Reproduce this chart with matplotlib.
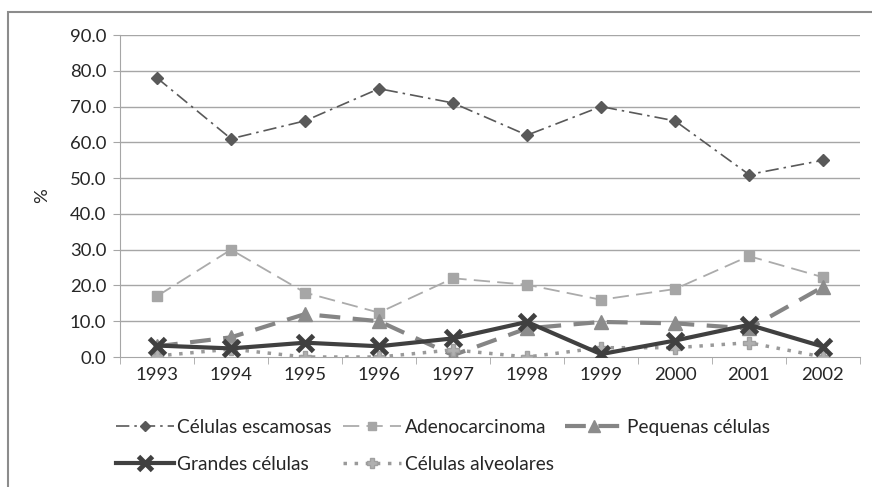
import matplotlib
matplotlib.use("Agg")
import matplotlib.pyplot as plt
from matplotlib.patches import Rectangle
import numpy as np

years = ["1993", "1994", "1995", "1996", "1997", "1998", "1999", "2000", "2001", "2002"]
escamosas = [78.0, 61.0, 66.0, 75.0, 71.0, 62.0, 70.0, 66.0, 51.0, 55.0]
adenocarcinoma = [17.0, 30.0, 18.0, 12.4, 22.0, 20.2, 16.0, 19.0, 28.2, 22.3]
pequenas = [3.0, 5.5, 12.0, 10.0, 0.5, 8.0, 9.8, 9.4, 8.0, 19.6]
grandes = [3.2, 2.4, 4.0, 3.0, 5.2, 9.8, 0.8, 4.6, 9.0, 2.9]
alveolares = [0.3, 2.2, 0.0, 0.0, 2.0, 0.0, 2.6, 2.6, 4.0, 0.0]

y_ticks = [0, 10, 20, 30, 40, 50, 60, 70, 80, 90]

plt.rcParams['font.family'] = ['Lato', 'DejaVu Sans']

W, H = 872, 487
fig = plt.figure(figsize=(W / 100, H / 100), dpi=100)

# outer chart frame (cropped on right/bottom)
fig.patches.append(Rectangle((8 / W, -0.1), 1.2, 1 - 12 / H + 0.1,
                             transform=fig.transFigure, fill=False,
                             edgecolor='#8c8c8c', linewidth=1.5))

ax = fig.add_axes([120 / W, 1 - 357 / H, (860 - 120) / W, (357 - 35) / H])
x = np.arange(len(years))

grid_c = '#a6a6a6'
for v in y_ticks[1:]:
    ax.axhline(v, color=grid_c, linewidth=1.0, zorder=0)

ax.plot(x, escamosas, color='#595959', linestyle=(0, (8, 3, 1.5, 3)), linewidth=1.2,
        marker='D', markersize=6, markerfacecolor='#595959', markeredgecolor='#595959',
        label='Células escamosas', zorder=3)
ax.plot(x, adenocarcinoma, color='#ababab', linestyle=(0, (9, 4)), linewidth=1.3,
        marker='s', markersize=7, markerfacecolor='#a6a6a6', markeredgecolor='#a6a6a6',
        label='Adenocarcinoma', zorder=3)
ax.plot(x, pequenas, color='#858585', linestyle=(0, (5, 3)), linewidth=3.0,
        marker='^', markersize=10, markerfacecolor='#8c8c8c', markeredgecolor='#8c8c8c',
        label='Pequenas células', zorder=3)
ax.plot(x, alveolares, color='#9a9a9a', linestyle=(0, (1, 2.2)), linewidth=2.5,
        marker='P', markersize=9, markerfacecolor='#b0b0b0', markeredgecolor='#a0a0a0',
        label='Células alveolares', zorder=3)
ax.plot(x, grandes, color='#404040', linestyle='-', linewidth=3.0,
        marker='x', markersize=12, markeredgewidth=3.5, markeredgecolor='#404040',
        label='Grandes células', zorder=4)

FS = 13.3
ax.set_xlim(-0.5, len(years) - 0.5)
ax.set_ylim(0, 90)
ax.set_yticks(y_ticks)
ax.set_yticklabels([f"{v:.1f}" for v in y_ticks], fontsize=FS, color='#262626')
ax.set_xticks(x)
ax.set_xticklabels(years, fontsize=FS, color='#262626')
ax.set_xticks(np.arange(len(years) + 1) - 0.5, minor=True)
ax.tick_params(axis='x', which='major', length=0, pad=7)
ax.tick_params(axis='x', which='minor', length=5, color=grid_c, direction='out')
ax.tick_params(axis='y', which='major', length=5, color=grid_c, direction='out', pad=5)

for s in ['top', 'right']:
    ax.spines[s].set_visible(False)
ax.spines['left'].set_color(grid_c)
ax.spines['bottom'].set_color(grid_c)
ax.set_ylabel('%', fontsize=FS, color='#262626')
ax.yaxis.set_label_coords(-0.095, 0.5)

handles, labels = ax.get_legend_handles_labels()
hmap = dict(zip(labels, handles))
order = ['Células escamosas', 'Grandes células', 'Adenocarcinoma',
         'Células alveolares', 'Pequenas células']

leg = fig.legend([hmap[l] for l in order], order, loc='upper left',
                 bbox_to_anchor=(116 / W, 1 - 419 / H), ncol=3, frameon=False,
                 fontsize=13.8, handlelength=3.0, columnspacing=0.6, handletextpad=0.2,
                 labelspacing=1.02, markerscale=0.8, borderpad=0, borderaxespad=0)
for t in leg.get_texts():
    t.set_color('#262626')

fig.savefig('out.png', dpi=100)
